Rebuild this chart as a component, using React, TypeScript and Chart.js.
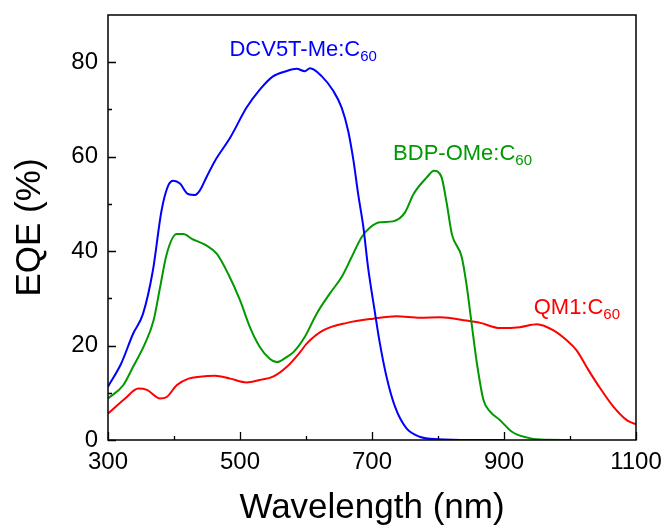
import React, { useEffect, useRef } from "react";
import { Chart, registerables } from "chart.js";

Chart.register(...registerables);

// ---- Data (wavelength in nm, EQE in %) ----
const dcvWavelength = [300, 320, 338, 353, 368, 381, 391, 399, 409, 421, 432, 439, 449, 462, 485, 510, 530, 550, 570, 586, 598, 606, 624, 641, 654, 664, 672, 679, 687, 694, 704, 712, 722, 735, 752, 772, 800, 850, 900];
const dcvEQE = [11.3, 16.2, 22.5, 26.7, 35.9, 48.5, 53.8, 54.9, 54.3, 52.1, 51.9, 52.8, 55.6, 59.1, 64.0, 70.4, 74.2, 77.0, 78.1, 78.6, 78.1, 78.7, 77.0, 74.0, 70.4, 65.4, 59.1, 52.1, 45.0, 36.6, 27.4, 20.4, 13.4, 7.0, 2.5, 0.7, 0.15, 0, 0];

const bdpWavelength = [300, 323, 338, 356, 369, 379, 389, 404, 414, 427, 449, 465, 482, 500, 515, 530, 545, 556, 571, 581, 598, 616, 636, 654, 669, 684, 697, 712, 732, 750, 763, 783, 794, 805, 813, 821, 836, 843, 851, 859, 869, 879, 894, 912, 934, 955, 1000];
const bdpEQE = [8.8, 11.6, 15.5, 20.4, 25.3, 32.4, 39.4, 43.6, 43.6, 42.6, 41.2, 39.4, 35.2, 29.6, 23.9, 19.7, 17.2, 16.5, 17.6, 18.6, 21.8, 26.7, 31.0, 34.5, 38.7, 42.9, 45.0, 46.1, 46.3, 48.2, 52.1, 55.6, 57.0, 55.8, 50.3, 43.6, 38.7, 33.1, 24.6, 16.2, 8.4, 6.0, 4.2, 1.75, 0.55, 0.1, 0];

const qmWavelength = [300, 326, 346, 359, 379, 389, 404, 422, 439, 462, 485, 510, 530, 550, 571, 591, 601, 626, 662, 702, 737, 773, 803, 843, 864, 894, 924, 950, 975, 995, 1010, 1028, 1046, 1066, 1086, 1100];
const qmEQE = [5.6, 8.8, 10.9, 10.6, 8.8, 9.1, 11.6, 13.0, 13.4, 13.6, 13.0, 12.2, 12.7, 13.4, 15.5, 18.6, 20.4, 23.2, 24.8, 25.7, 26.2, 25.9, 26.0, 25.3, 24.8, 23.7, 23.9, 24.5, 23.2, 21.1, 19.0, 14.8, 10.9, 7.0, 4.2, 3.3];

const seriesNames = ["DCV5T-Me:C60", "BDP-OMe:C60", "QM1:C60"];
const seriesColors = ["#0000ff", "#009900", "#ff0000"];

// Tick values
const xMajorTicks = [300, 500, 700, 900, 1100];
const xMinorTicks = [400, 600, 800, 1000];
const yMajorTicks = [0, 20, 40, 60, 80];
const yMinorTicks = [10, 30, 50, 70];

// Curve labels: base text, subscript, anchor (nm, EQE)
const labelBase = ["DCV5T-Me:C", "BDP-OMe:C", "QM1:C"];
const labelSub = ["60", "60", "60"];
const labelX = [484, 732, 945];
const labelY = [81.3, 59.3, 26.6];

const FONT = "Arial, 'Liberation Sans', sans-serif";

const zip = (xs: number[], ys: number[]) => xs.map((x, i) => ({ x, y: ys[i] }));

const decorPlugin = {
  id: "decor",
  afterDatasetsDraw(chart: any) {
    const { ctx, chartArea, scales } = chart;
    const xs = scales.x;
    const ys = scales.y;
    ctx.save();
    // frame
    ctx.strokeStyle = "#000";
    ctx.lineWidth = 1.5;
    ctx.strokeRect(chartArea.left, chartArea.top, chartArea.right - chartArea.left, chartArea.bottom - chartArea.top);
    // ticks (inward)
    ctx.lineWidth = 1.3;
    ctx.beginPath();
    const xt = (v: number, len: number) => {
      const p = Math.round(xs.getPixelForValue(v)) + 0.5;
      ctx.moveTo(p, chartArea.bottom);
      ctx.lineTo(p, chartArea.bottom - len);
    };
    const yt = (v: number, len: number) => {
      const p = Math.round(ys.getPixelForValue(v)) + 0.5;
      ctx.moveTo(chartArea.left, p);
      ctx.lineTo(chartArea.left + len, p);
    };
    xMajorTicks.forEach((v) => xt(v, 8));
    xMinorTicks.forEach((v) => xt(v, 4));
    yMajorTicks.forEach((v) => yt(v, 8));
    yMinorTicks.forEach((v) => yt(v, 4));
    ctx.stroke();
    // curve labels with subscripts
    ctx.textBaseline = "alphabetic";
    ctx.textAlign = "left";
    labelBase.forEach((t, i) => {
      const px = xs.getPixelForValue(labelX[i]);
      const py = ys.getPixelForValue(labelY[i]);
      ctx.fillStyle = seriesColors[i];
      ctx.font = `22px ${FONT}`;
      ctx.fillText(t, px, py);
      const w = ctx.measureText(t).width;
      ctx.font = `15px ${FONT}`;
      ctx.fillText(labelSub[i], px + w, py + 5);
    });
    ctx.restore();
  },
};

const clearPad = (s: any) => {
  s.paddingTop = 0;
  s.paddingBottom = 0;
  s.paddingLeft = 0;
  s.paddingRight = 0;
};

export default function App() {
  const canvasRef = useRef<HTMLCanvasElement | null>(null);

  useEffect(() => {
    document.body.style.margin = "0";
    const canvas = canvasRef.current;
    if (!canvas) return;
    const data = [zip(dcvWavelength, dcvEQE), zip(bdpWavelength, bdpEQE), zip(qmWavelength, qmEQE)];
    const chart = new Chart(canvas, {
      type: "line",
      data: {
        datasets: data.map((d, i) => ({
          label: seriesNames[i],
          data: d,
          borderColor: seriesColors[i],
          backgroundColor: seriesColors[i],
          borderWidth: 2,
          pointRadius: 0,
          fill: false,
          cubicInterpolationMode: "monotone" as const,
        })),
      },
      options: {
        animation: false,
        responsive: true,
        maintainAspectRatio: false,
        layout: { padding: { left: 0, right: 33, top: 15, bottom: 0 } },
        plugins: { legend: { display: false }, tooltip: { enabled: false } },
        scales: {
          x: {
            type: "linear",
            min: 300,
            max: 1100,
            grid: { display: false, drawTicks: false },
            border: { display: false },
            afterBuildTicks: (s: any) => {
              s.ticks = xMajorTicks.map((v) => ({ value: v }));
            },
            afterFit: (s: any) => {
              s.height = 91;
              clearPad(s);
            },
            ticks: {
              color: "#000",
              padding: 8,
              maxRotation: 0,
              autoSkip: false,
              font: { family: FONT, size: 24 },
              callback: (v: any) => String(v),
            },
            title: {
              display: true,
              text: "Wavelength (nm)",
              color: "#000",
              font: { family: FONT, size: 35 },
              padding: { top: 0, bottom: 2 },
            },
          },
          y: {
            type: "linear",
            min: 0,
            max: 90,
            grid: { display: false, drawTicks: false },
            border: { display: false },
            afterBuildTicks: (s: any) => {
              s.ticks = yMajorTicks.map((v) => ({ value: v }));
            },
            afterFit: (s: any) => {
              s.width = 108;
              clearPad(s);
            },
            ticks: {
              color: "#000",
              padding: 10,
              autoSkip: false,
              font: { family: FONT, size: 24 },
              callback: (v: any) => String(v),
            },
            title: {
              display: true,
              text: "EQE (%)",
              color: "#000",
              font: { family: FONT, size: 35 },
              padding: { top: 9, bottom: 0 },
            },
          },
        },
      },
      plugins: [decorPlugin],
    });
    return () => chart.destroy();
  }, []);

  return (
    <div style={{ position: "fixed", left: 0, top: 0, width: 669, height: 531, background: "#fff" }}>
      <canvas ref={canvasRef} />
    </div>
  );
}
